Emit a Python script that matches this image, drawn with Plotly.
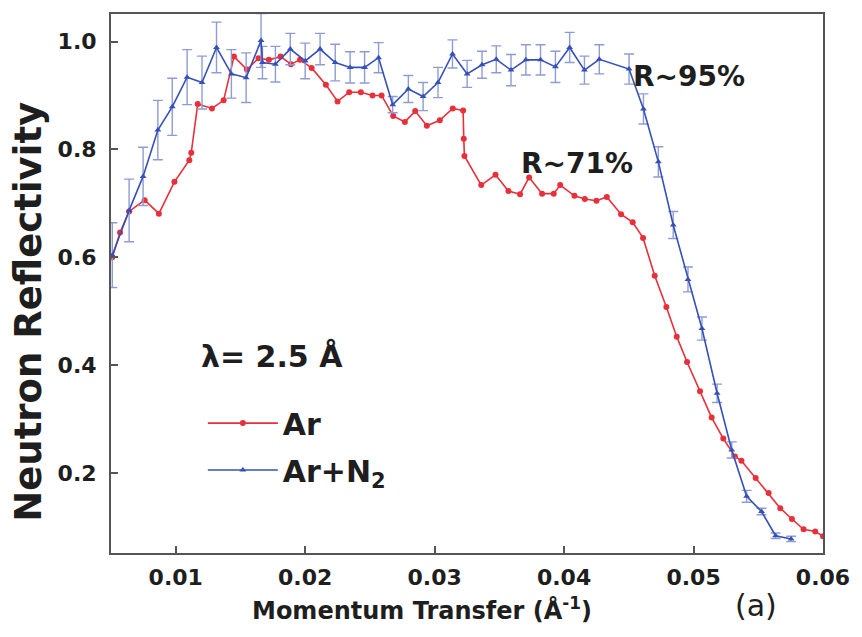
import plotly.graph_objects as go

# ---- data ----
q_ar = [0.0051, 0.0057, 0.0064, 0.0076, 0.0087, 0.0099, 0.01105, 0.0112, 0.0117, 0.0128, 0.0137,
        0.0145, 0.0155, 0.0164, 0.0172, 0.0181, 0.0189, 0.0196, 0.0205, 0.0216, 0.0225,
        0.0234, 0.0243, 0.0252, 0.0259, 0.0268, 0.0277, 0.0285, 0.0294, 0.0304, 0.0314,
        0.0322, 0.03225, 0.0323, 0.0336, 0.0347, 0.0357, 0.0366, 0.0373, 0.0383, 0.0392,
        0.0397, 0.0408, 0.0416, 0.0425, 0.0433, 0.0444, 0.0453, 0.0461, 0.0470, 0.0479,
        0.0487, 0.0495, 0.0505, 0.0514, 0.0523, 0.0532, 0.0537, 0.0548, 0.0558, 0.0567,
        0.0576, 0.0585, 0.0594, 0.0600]
r_ar = [0.600, 0.646, 0.685, 0.706, 0.681, 0.740, 0.780, 0.794, 0.884, 0.876, 0.891,
        0.972, 0.948, 0.969, 0.966, 0.972, 0.958, 0.966, 0.951, 0.920, 0.889,
        0.906, 0.906, 0.900, 0.900, 0.862, 0.851, 0.871, 0.844, 0.854, 0.876,
        0.872, 0.820, 0.788, 0.734, 0.753, 0.723, 0.717, 0.748, 0.718, 0.718,
        0.734, 0.714, 0.708, 0.705, 0.712, 0.680, 0.665, 0.636, 0.566, 0.508,
        0.453, 0.406, 0.352, 0.303, 0.264, 0.231, 0.223, 0.191, 0.163, 0.135,
        0.115, 0.096, 0.092, 0.083]

q_n2 = [0.0051, 0.0064, 0.00748, 0.00862, 0.00973, 0.01088, 0.01203, 0.01315, 0.0143, 0.01544,
        0.01659, 0.0167, 0.0177, 0.01885, 0.0200, 0.02115, 0.02232, 0.02347, 0.02459, 0.02567,
        0.02676, 0.02797, 0.02911, 0.03026, 0.03138, 0.03251, 0.03366, 0.03476, 0.0359, 0.03705,
        0.03818, 0.03933, 0.04043, 0.04157, 0.04272, 0.04502, 0.04613, 0.04728, 0.04843, 0.04957,
        0.05065, 0.05182, 0.05295, 0.0541, 0.05525, 0.05634, 0.05754]
r_n2 = [0.604, 0.687, 0.750, 0.836, 0.879, 0.934, 0.924, 0.989, 0.940, 0.933,
        1.002, 0.961, 0.958, 0.986, 0.964, 0.986, 0.961, 0.952, 0.952, 0.970,
        0.883, 0.912, 0.898, 0.924, 0.977, 0.940, 0.957, 0.967, 0.947, 0.966,
        0.966, 0.953, 0.989, 0.947, 0.967, 0.949, 0.875, 0.777, 0.660, 0.559,
        0.468, 0.348, 0.243, 0.157, 0.129, 0.084, 0.078]
err_n2 = [0.060, 0.058, 0.054, 0.055, 0.053, 0.051, 0.049, 0.047, 0.045, 0.046,
          0.050, 0.030, 0.033, 0.029, 0.033, 0.029, 0.034, 0.029, 0.029, 0.028,
          0.015, 0.025, 0.026, 0.028, 0.026, 0.025, 0.025, 0.025, 0.029, 0.028,
          0.028, 0.029, 0.028, 0.026, 0.027, 0.028, 0.028, 0.028, 0.025, 0.023,
          0.0215, 0.017, 0.015, 0.011, 0.006, 0.005, 0.005]

x_ticks = [0.01, 0.02, 0.03, 0.04, 0.05, 0.06]
y_ticks = [0.2, 0.4, 0.6, 0.8, 1.0]

RED = "#e8303a"
BLUE = "#3550b8"
EBLUE = "#8e9cd6"
FONT = "DejaVu Sans"
TXT = "#1e1e1e"

fig = go.Figure()
fig.add_trace(go.Scatter(
    x=q_ar, y=r_ar, mode="lines+markers", name="Ar",
    line=dict(color=RED, width=1.6),
    marker=dict(symbol="circle", size=6, color=RED),
    legend="legend",
))
fig.add_trace(go.Scatter(
    x=q_n2, y=r_n2, mode="lines+markers", name="Ar+N<sub>2</sub>",
    line=dict(color=BLUE, width=1.6),
    marker=dict(symbol="triangle-up", size=6, color=BLUE),
    error_y=dict(type="data", array=err_n2, visible=True, color=EBLUE, thickness=1.4, width=5),
    legend="legend2",
))

axis_common = dict(
    showline=True, linecolor="#555555", linewidth=2, mirror=True,
    ticks="inside", ticklen=7, tickwidth=1.5, tickcolor="#555555",
    showgrid=False, zeroline=False,
    tickfont=dict(family=FONT, size=22, color=TXT, weight="bold"),
)

fig.update_xaxes(
    range=[0.005, 0.06], tickvals=x_ticks, ticktext=[f"{v:.2f}" for v in x_ticks],
    ticklabelstandoff=4,
    **axis_common,
)
fig.update_yaxes(
    range=[0.052, 1.051], tickvals=y_ticks, ticktext=[f"{v:.1f}" for v in y_ticks],
    ticklabelstandoff=8,
    **axis_common,
)

legend_common = dict(
    font=dict(family=FONT, size=30, color=TXT, weight="bold"),
    bgcolor="rgba(0,0,0,0)", borderwidth=0, itemwidth=70,
    xanchor="left", yanchor="middle",
)
bold = lambda size: dict(family=FONT, size=size, color=TXT, weight="bold")
fig.update_layout(
    width=862, height=637,
    margin=dict(l=111, r=33, t=13, b=84),
    paper_bgcolor="white", plot_bgcolor="white",
    font=dict(family=FONT, color=TXT),
    showlegend=True,
    legend=dict(x=0.129, y=0.241, **legend_common),
    legend2=dict(x=0.129, y=0.154, **legend_common),
    annotations=[
        dict(x=0.0452, y=0.936, xref="x", yref="y", text="R~95%", showarrow=False,
             xanchor="left", yanchor="middle", font=bold(28)),
        dict(x=0.0365, y=0.774, xref="x", yref="y", text="R~71%", showarrow=False,
             xanchor="left", yanchor="middle", font=bold(28)),
        dict(x=0.0118, y=0.418, xref="x", yref="y", text="λ= 2.5 Å", showarrow=False,
             xanchor="left", yanchor="middle", font=bold(30)),
        dict(x=0.906, y=-0.098, xref="paper", yref="paper", text="(a)", showarrow=False,
             xanchor="center", yanchor="middle",
             font=dict(family=FONT, size=30, color=TXT)),
        # axis titles
        dict(x=0.437, y=-0.104, xref="paper", yref="paper",
             text="Momentum Transfer (Å<sup>-1</sup>)", showarrow=False,
             xanchor="center", yanchor="middle", font=bold(24)),
        dict(x=-0.117, y=0.447, xref="paper", yref="paper",
             text="Neutron Reflectivity", showarrow=False, textangle=-90,
             xanchor="center", yanchor="middle", font=bold(37)),
    ],
)

fig.write_html("out.html")
